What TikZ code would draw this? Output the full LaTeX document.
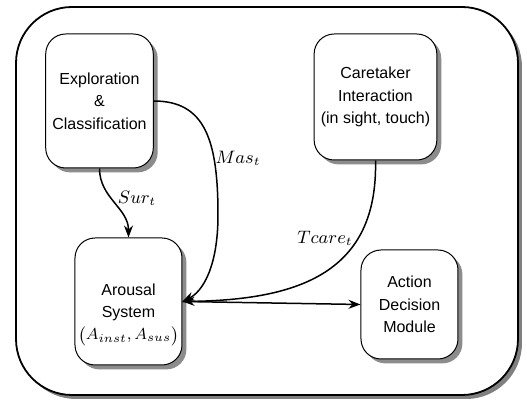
\documentclass[tikz,border=0pt]{standalone}
\usepackage{amsmath}
\usepackage{fontspec}
\setmainfont{Liberation Sans}
\usetikzlibrary{arrows.meta, positioning, shadows}

\begin{document}
\begin{tikzpicture}[>={Stealth[length=6pt, width=4.5pt]}, x=0.5pt, y=-0.5pt,
      frame/.style={draw, line width=0.9pt, rounded corners=28pt, fill=white,
                    minimum width=251pt, minimum height=194pt,
                    drop shadow={shadow xshift=2pt, shadow yshift=-2pt,
                                 fill=black!50, opacity=1}},
      box/.style={draw, line width=0.5pt, rounded corners=10pt, fill=white,
                  align=center, font=\fontsize{8}{11.2}\selectfont,
                  drop shadow={shadow xshift=2.2pt, shadow yshift=-2.2pt,
                               fill=black!45, opacity=1}},
      txt/.style={align=center, font=\fontsize{8}{11.2}\selectfont},
      arr/.style={->, line width=0.75pt},
      lbl/.style={font=\fontsize{9}{11}\selectfont}]

    \useasboundingbox (0,0) rectangle (527,401);

    % Outer frame
    \node[frame] (frame) at (267,201) {};

    % Boxes
    \node[box, minimum width=53.5pt, minimum height=67pt] (expl) at (99.5,101)
        {Exploration\\\&\\Classification};
    \node[box, minimum width=58.5pt, minimum height=63pt] (care) at (375.5,97)
        {Caretaker\\Interaction\\(in sight, touch)};
    \node[box, minimum width=53.5pt, minimum height=63.5pt] (aro) at (128.5,301.5) {};
    \node[txt] (arotxt) at ([yshift=-6.5pt]aro.center)
        {Arousal\\System\\$\bigl(A_{inst},A_{sus}\bigr)$};
    \node[box, minimum width=48.5pt, minimum height=54.5pt] (act) at (409.5,304.5)
        {Action\\Decision\\Module};

    % Arrows into the arousal system
    \draw[arr] (expl.south) to[out=-90, in=90] (aro.north);
    \draw[arr] (expl.east) .. controls (205,101) and (218,140) .. (218,215)
        .. controls (218,268) and (202,292) .. (aro.east);
    \draw[arr] (care.south) .. controls (378,272) and (300,300) .. (aro.east);

    % Arousal to action
    \draw[arr] (aro.east) -- (act.west);

    % Labels
    \node[lbl] (sur)   at (137,198) {$Sur_t$};
    \node[lbl] (mas)   at (238,158) {$Mas_t$};
    \node[lbl] (tcare) at (325,238) {$Tcare_t$};

\end{tikzpicture}
\end{document}
